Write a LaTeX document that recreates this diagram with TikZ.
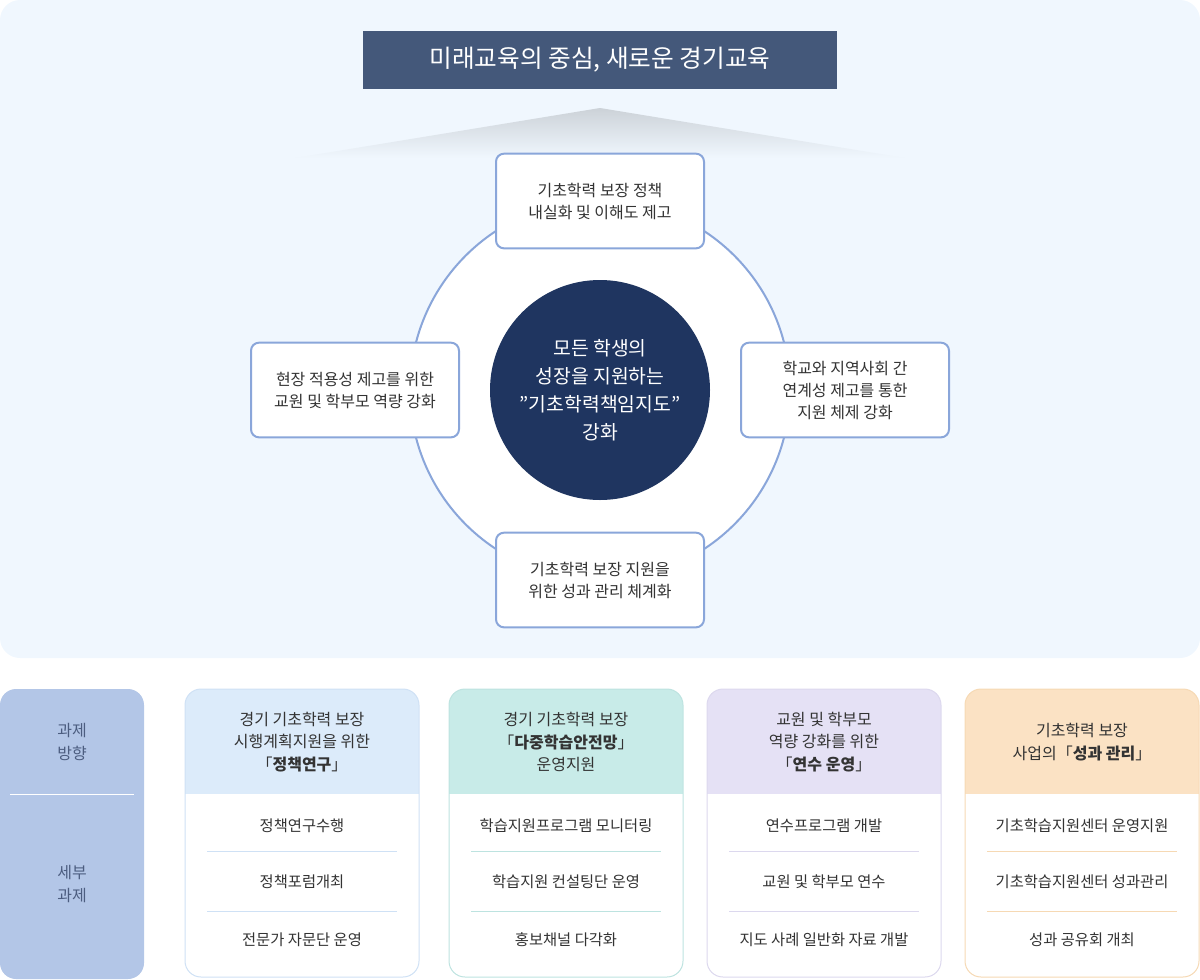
\documentclass[tikz,border=0pt]{standalone}
\usepackage{fontspec}
\setmainfont{Noto Sans CJK KR}
\usetikzlibrary{positioning}
\definecolor{panelbg}{HTML}{F0F7FE}
\definecolor{banner}{HTML}{44587A}
\definecolor{ring}{HTML}{8AA6DA}
\definecolor{core}{HTML}{1F3560}
\definecolor{side}{HTML}{B3C6E7}
\definecolor{txt}{HTML}{333333}
\definecolor{hdA}{HTML}{DCEBFA}
\definecolor{hdB}{HTML}{C8EBE8}
\definecolor{hdC}{HTML}{E5E1F5}
\definecolor{hdD}{HTML}{FBE2C4}
\definecolor{lnA}{HTML}{CFE1F5}
\definecolor{lnB}{HTML}{BDE3E0}
\definecolor{lnC}{HTML}{DCD8EE}
\definecolor{lnD}{HTML}{F6D9B4}
\tikzset{
  goalbox/.style={draw=ring, line width=1.5pt, fill=white, rounded corners=6pt,
    minimum width=156pt, minimum height=71pt, align=center, text=txt, font=\fontsize{12}{16.5}\selectfont},
  itemtxt/.style={text=txt, font=\fontsize{11.5}{14}\selectfont},
  headtxt/.style={text=txt, align=center, font=\fontsize{12}{17}\selectfont}
}
\begin{document}
\begin{tikzpicture}[x=0.75pt, y=-0.75pt]
\useasboundingbox (0,0) rectangle (1200,979);
% top panel
\fill[panelbg, rounded corners=15pt] (0,0) rectangle (1200,658);
\node[fill=banner, text=white, minimum width=356pt, minimum height=43.5pt,
  font=\fontsize{18.5}{22}\selectfont] (title) at (600,60) {미래교육의 중심, 새로운 경기교육};
\shade[top color=black!15!panelbg, bottom color=panelbg] (600,108) -- (905,158) -- (295,158) -- cycle;
\draw[ring, line width=1.5pt, fill=white] (600,390) circle [radius=190];
\node[circle, fill=core, text=white, minimum size=165pt, align=center,
  font=\fontsize{14.5}{21}\selectfont] (center) at (600,390)
  {모든 학생의\\성장을 지원하는\\\symbol{34}기초학력책임지도\symbol{34}\\강화};
\node[goalbox] (top) at (600,201) {기초학력 보장 정책\\내실화 및 이해도 제고};
\node[goalbox] (left) at (355,390) {현장 적용성 제고를 위한\\교원 및 학부모 역량 강화};
\node[goalbox] (right) at (845,390) {학교와 지역사회 간\\연계성 제고를 통한\\지원 체제 강화};
\node[goalbox] (bottom) at (600,580) {기초학력 보장 지원을\\위한 성과 관리 체계화};
% bottom table
\fill[side, rounded corners=12pt] (0,689) rectangle (144,979);
\draw[white, line width=0.75pt] (10,794) -- (134,794);
\node[headtxt, text=core!80] (dir) at (72,742) {과제\\방향};
\node[headtxt, text=core!80] (sub) at (72,884) {세부\\과제};
\foreach \x/\hd/\ln/\head/\a/\b/\c [count=\i] in {
  185/hdA/lnA/{경기 기초학력 보장\\시행계획지원을 위한\\「\textbf{정책연구}」}/정책연구수행/정책포럼개최/전문가 자문단 운영,
  449/hdB/lnB/{경기 기초학력 보장\\「\textbf{다중학습안전망}」\\운영지원}/학습지원프로그램 모니터링/학습지원 컨설팅단 운영/홍보채널 다각화,
  707/hdC/lnC/{교원 및 학부모\\역량 강화를 위한\\「\textbf{연수 운영}」}/연수프로그램 개발/교원 및 학부모 연수/지도 사례 일반화 자료 개발,
  965/hdD/lnD/{기초학력 보장\\사업의「\textbf{성과 관리}」}/기초학습지원센터 운영지원/기초학습지원센터 성과관리/성과 공유회 개최} {
  \begin{scope}
    \clip[rounded corners=12pt] (\x,689) rectangle (\x+234,977);
    \fill[white] (\x,689) rectangle (\x+234,977);
    \fill[\hd] (\x,689) rectangle (\x+234,794);
  \end{scope}
  \draw[\ln, line width=0.75pt, rounded corners=12pt] (\x,689) rectangle (\x+234,977);
  \node[headtxt] (head\i) at (\x+117,742) {\head};
  \node[itemtxt] (itemA\i) at (\x+117,826) {\a};
  \node[itemtxt] (itemB\i) at (\x+117,882) {\b};
  \node[itemtxt] (itemC\i) at (\x+117,940) {\c};
  \draw[\ln, line width=0.75pt] (\x+22,851) -- (\x+212,851);
  \draw[\ln, line width=0.75pt] (\x+22,911) -- (\x+212,911);
}
\end{tikzpicture}
\end{document}
